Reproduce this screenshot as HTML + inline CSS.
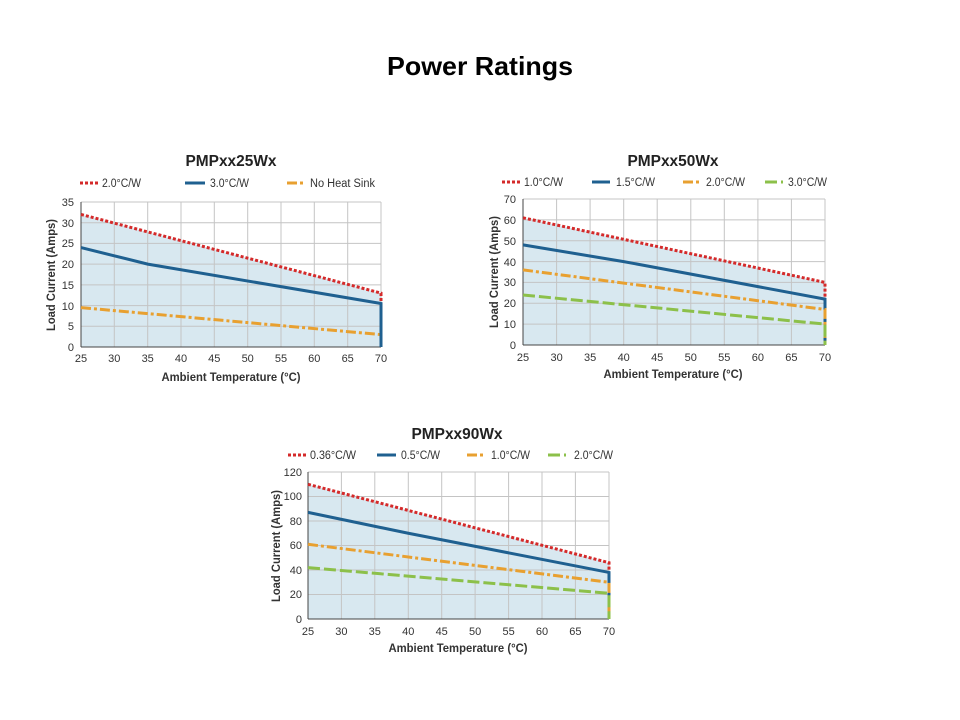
<!DOCTYPE html>
<html><head><meta charset="utf-8"><style>
body{margin:0;background:#fff;}
svg{display:block;}
text{font-family:"Liberation Sans Narrow","Liberation Sans",sans-serif;fill:#333;}
.t{font-family:"Liberation Sans",sans-serif;font-weight:bold;fill:#000;}
.ct{font-family:"Liberation Sans",sans-serif;font-weight:bold;fill:#222;font-size:16px;}
.tk{font-size:11px;}
.lg{font-size:11.5px;}
.al{font-size:12px;font-weight:bold;}
.g{stroke:#c4c4c4;stroke-width:1;}
.r{stroke:#d42a2a;stroke-width:3;stroke-dasharray:3 2;fill:none;}
.b{stroke:#1f6090;stroke-width:3;fill:none;}
.o{stroke:#e8a030;stroke-width:3;stroke-dasharray:10 3 3 3;fill:none;}
.gr{stroke:#8cc04a;stroke-width:3;stroke-dasharray:12 4;fill:none;}
.f{fill:#d8e8f0;}
.ax{stroke:#444;stroke-width:1;}
</style></head><body>
<svg width="960" height="720" xmlns="http://www.w3.org/2000/svg">
<text class="t" x="480" y="75" text-anchor="middle" font-size="26" textLength="186" lengthAdjust="spacingAndGlyphs">Power Ratings</text>

<!-- Chart 1 -->
<text class="ct" x="231" y="166" text-anchor="middle" textLength="91" lengthAdjust="spacingAndGlyphs">PMPxx25Wx</text>
<line class="r" x1="80" y1="183" x2="98" y2="183"/><text class="lg" x="102" y="187" textLength="39" lengthAdjust="spacingAndGlyphs">2.0°C/W</text>
<line class="b" x1="185" y1="183" x2="205" y2="183"/><text class="lg" x="210" y="187" textLength="39" lengthAdjust="spacingAndGlyphs">3.0°C/W</text>
<line class="o" x1="287" y1="183" x2="305" y2="183"/><text class="lg" x="310" y="187" textLength="65" lengthAdjust="spacingAndGlyphs">No Heat Sink</text>
<polygon class="f" points="81,214.4 381,293.1 381,347 81,347"/>
<g class="g">
<line x1="81" y1="202" x2="381" y2="202"/><line x1="81" y1="222.7" x2="381" y2="222.7"/><line x1="81" y1="243.4" x2="381" y2="243.4"/><line x1="81" y1="264.1" x2="381" y2="264.1"/><line x1="81" y1="284.9" x2="381" y2="284.9"/><line x1="81" y1="305.6" x2="381" y2="305.6"/><line x1="81" y1="326.3" x2="381" y2="326.3"/>
<line x1="114.3" y1="202" x2="114.3" y2="347"/><line x1="147.7" y1="202" x2="147.7" y2="347"/><line x1="181" y1="202" x2="181" y2="347"/><line x1="214.3" y1="202" x2="214.3" y2="347"/><line x1="247.7" y1="202" x2="247.7" y2="347"/><line x1="281" y1="202" x2="281" y2="347"/><line x1="314.3" y1="202" x2="314.3" y2="347"/><line x1="347.7" y1="202" x2="347.7" y2="347"/><line x1="381" y1="202" x2="381" y2="347"/>
</g>
<line class="ax" x1="81" y1="202" x2="81" y2="347"/><line class="ax" x1="81" y1="347" x2="381" y2="347"/>
<polyline class="r" points="81,214.4 381,293.1 381,347"/>
<polyline class="o" points="81,307.6 381,334.6 381,347"/>
<polyline class="b" points="81,247.6 147.7,264.1 381,303.5 381,347"/>
<g class="tk" text-anchor="end">
<text x="74" y="206">35</text><text x="74" y="227">30</text><text x="74" y="247">25</text><text x="74" y="268">20</text><text x="74" y="289">15</text><text x="74" y="310">10</text><text x="74" y="330">5</text><text x="74" y="351">0</text>
</g>
<g class="tk" text-anchor="middle">
<text x="81" y="362">25</text><text x="114.3" y="362">30</text><text x="147.7" y="362">35</text><text x="181" y="362">40</text><text x="214.3" y="362">45</text><text x="247.7" y="362">50</text><text x="281" y="362">55</text><text x="314.3" y="362">60</text><text x="347.7" y="362">65</text><text x="381" y="362">70</text>
</g>
<text class="al" x="231" y="381" text-anchor="middle" textLength="139" lengthAdjust="spacingAndGlyphs">Ambient Temperature (°C)</text>
<text class="al" transform="translate(55,275) rotate(-90)" text-anchor="middle" textLength="112" lengthAdjust="spacingAndGlyphs">Load Current (Amps)</text>

<!-- Chart 2 -->
<text class="ct" x="673" y="166" text-anchor="middle" textLength="91" lengthAdjust="spacingAndGlyphs">PMPxx50Wx</text>
<line class="r" x1="502" y1="182" x2="520" y2="182"/><text class="lg" x="524" y="186" textLength="39" lengthAdjust="spacingAndGlyphs">1.0°C/W</text>
<line class="b" x1="592" y1="182" x2="610" y2="182"/><text class="lg" x="616" y="186" textLength="39" lengthAdjust="spacingAndGlyphs">1.5°C/W</text>
<line class="o" x1="683" y1="182" x2="701" y2="182"/><text class="lg" x="706" y="186" textLength="39" lengthAdjust="spacingAndGlyphs">2.0°C/W</text>
<line class="gr" x1="765" y1="182" x2="783" y2="182"/><text class="lg" x="788" y="186" textLength="39" lengthAdjust="spacingAndGlyphs">3.0°C/W</text>
<polygon class="f" points="523,217.8 825,282.4 825,345 523,345"/>
<g class="g">
<line x1="523" y1="199" x2="825" y2="199"/><line x1="523" y1="219.9" x2="825" y2="219.9"/><line x1="523" y1="240.7" x2="825" y2="240.7"/><line x1="523" y1="261.6" x2="825" y2="261.6"/><line x1="523" y1="282.4" x2="825" y2="282.4"/><line x1="523" y1="303.3" x2="825" y2="303.3"/><line x1="523" y1="324.1" x2="825" y2="324.1"/>
<line x1="556.6" y1="199" x2="556.6" y2="345"/><line x1="590.1" y1="199" x2="590.1" y2="345"/><line x1="623.7" y1="199" x2="623.7" y2="345"/><line x1="657.2" y1="199" x2="657.2" y2="345"/><line x1="690.8" y1="199" x2="690.8" y2="345"/><line x1="724.3" y1="199" x2="724.3" y2="345"/><line x1="757.9" y1="199" x2="757.9" y2="345"/><line x1="791.4" y1="199" x2="791.4" y2="345"/><line x1="825" y1="199" x2="825" y2="345"/>
</g>
<line class="ax" x1="523" y1="199" x2="523" y2="345"/><line class="ax" x1="523" y1="345" x2="825" y2="345"/>
<polyline class="r" points="523,217.8 825,282.4 825,345"/>
<polyline class="b" points="523,244.9 623.7,261.6 825,299.1 825,345"/>
<polyline class="o" points="523,269.9 825,309.5 825,345"/>
<polyline class="gr" points="523,295 825,324.1 825,345"/>
<g class="tk" text-anchor="end">
<text x="516" y="203">70</text><text x="516" y="224">60</text><text x="516" y="245">50</text><text x="516" y="266">40</text><text x="516" y="286">30</text><text x="516" y="307">20</text><text x="516" y="328">10</text><text x="516" y="349">0</text>
</g>
<g class="tk" text-anchor="middle">
<text x="523" y="361">25</text><text x="556.6" y="361">30</text><text x="590.1" y="361">35</text><text x="623.7" y="361">40</text><text x="657.2" y="361">45</text><text x="690.8" y="361">50</text><text x="724.3" y="361">55</text><text x="757.9" y="361">60</text><text x="791.4" y="361">65</text><text x="825" y="361">70</text>
</g>
<text class="al" x="673" y="378" text-anchor="middle" textLength="139" lengthAdjust="spacingAndGlyphs">Ambient Temperature (°C)</text>
<text class="al" transform="translate(498,272) rotate(-90)" text-anchor="middle" textLength="112" lengthAdjust="spacingAndGlyphs">Load Current (Amps)</text>

<!-- Chart 3 -->
<text class="ct" x="457" y="439" text-anchor="middle" textLength="91" lengthAdjust="spacingAndGlyphs">PMPxx90Wx</text>
<line class="r" x1="288" y1="455" x2="306" y2="455"/><text class="lg" x="310" y="459" textLength="46" lengthAdjust="spacingAndGlyphs">0.36°C/W</text>
<line class="b" x1="377" y1="455" x2="396" y2="455"/><text class="lg" x="401" y="459" textLength="39" lengthAdjust="spacingAndGlyphs">0.5°C/W</text>
<line class="o" x1="467" y1="455" x2="486" y2="455"/><text class="lg" x="491" y="459" textLength="39" lengthAdjust="spacingAndGlyphs">1.0°C/W</text>
<line class="gr" x1="548" y1="455" x2="566" y2="455"/><text class="lg" x="574" y="459" textLength="39" lengthAdjust="spacingAndGlyphs">2.0°C/W</text>
<polygon class="f" points="308,484.3 609,562.7 609,619 308,619"/>
<g class="g">
<line x1="308" y1="472" x2="609" y2="472"/><line x1="308" y1="496.5" x2="609" y2="496.5"/><line x1="308" y1="521" x2="609" y2="521"/><line x1="308" y1="545.5" x2="609" y2="545.5"/><line x1="308" y1="570" x2="609" y2="570"/><line x1="308" y1="594.5" x2="609" y2="594.5"/>
<line x1="341.4" y1="472" x2="341.4" y2="619"/><line x1="374.8" y1="472" x2="374.8" y2="619"/><line x1="408.3" y1="472" x2="408.3" y2="619"/><line x1="441.7" y1="472" x2="441.7" y2="619"/><line x1="475.1" y1="472" x2="475.1" y2="619"/><line x1="508.6" y1="472" x2="508.6" y2="619"/><line x1="542" y1="472" x2="542" y2="619"/><line x1="575.4" y1="472" x2="575.4" y2="619"/><line x1="609" y1="472" x2="609" y2="619"/>
</g>
<line class="ax" x1="308" y1="472" x2="308" y2="619"/><line class="ax" x1="308" y1="619" x2="609" y2="619"/>
<polyline class="r" points="308,484.3 609,562.7 609,619"/>
<polyline class="b" points="308,512.4 408.3,533.25 609,572.45 609,619"/>
<polyline class="o" points="308,544.3 609,582.3 609,619"/>
<polyline class="gr" points="308,567.6 609,593.3 609,619"/>
<g class="tk" text-anchor="end">
<text x="302" y="476">120</text><text x="302" y="500">100</text><text x="302" y="525">80</text><text x="302" y="549">60</text><text x="302" y="574">40</text><text x="302" y="598">20</text><text x="302" y="623">0</text>
</g>
<g class="tk" text-anchor="middle">
<text x="308" y="635">25</text><text x="341.4" y="635">30</text><text x="374.8" y="635">35</text><text x="408.3" y="635">40</text><text x="441.7" y="635">45</text><text x="475.1" y="635">50</text><text x="508.6" y="635">55</text><text x="542" y="635">60</text><text x="575.4" y="635">65</text><text x="609" y="635">70</text>
</g>
<text class="al" x="458" y="652" text-anchor="middle" textLength="139" lengthAdjust="spacingAndGlyphs">Ambient Temperature (°C)</text>
<text class="al" transform="translate(280,546) rotate(-90)" text-anchor="middle" textLength="112" lengthAdjust="spacingAndGlyphs">Load Current (Amps)</text>
</svg>
</body></html>
